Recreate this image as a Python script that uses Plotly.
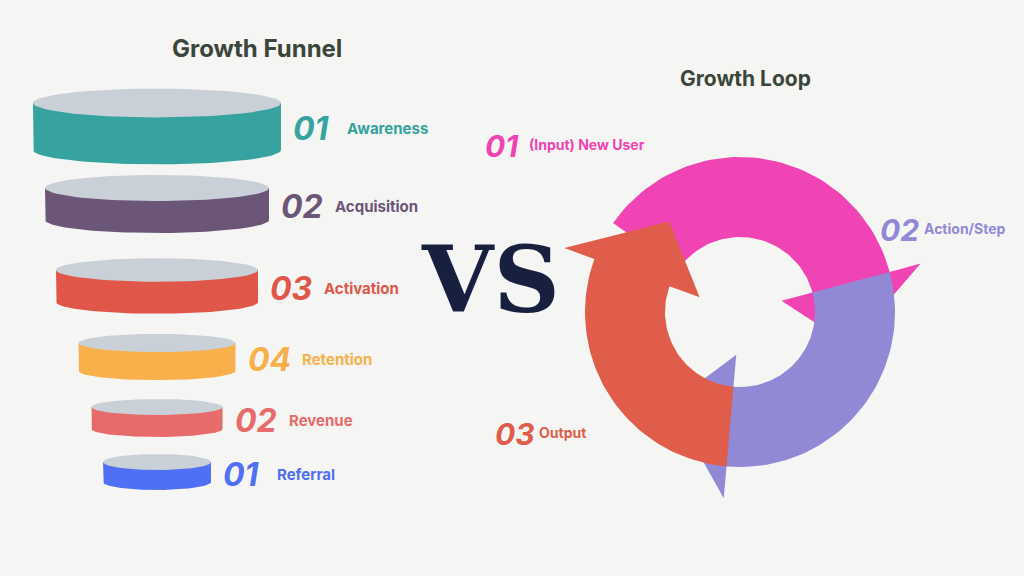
import numpy as np
import plotly.graph_objects as go

# ---- data ----
stage_names = ["Awareness", "Acquisition", "Activation", "Retention", "Revenue", "Referral"]
stage_nums = ["01", "02", "03", "04", "02", "01"]
stage_colors = ["#36a3a0", "#6b5677", "#e0574a", "#f8b04a", "#e86b6b", "#4f6ff5"]
stage_widths = [248, 224, 202, 157, 131, 108]
stage_top = [103, 188, 270, 343, 407, 462]
stage_depth = [47, 32, 32, 28, 22, 20]

loop_labels = ["(Input) New User", "Action/Step", "Output"]
loop_nums = ["01", "02", "03"]
loop_colors = ["#f044b4", "#9189d6", "#df5d4a"]
loop_arcs = [(145, 15), (15, -95), (265, 160)]

BG = "#f5f5f3"
TOP = "#c9d0d8"
fig = go.Figure()
cx_f = 157
t = np.linspace(0, 2 * np.pi, 80)

for name, num, col, w, y0, d in zip(stage_names, stage_nums, stage_colors,
                                    stage_widths, stage_top, stage_depth):
    rx = w / 2
    ry = max(8, w * 0.058)
    tt = np.linspace(0, np.pi, 60)
    xs = [cx_f - rx] + list(cx_f - rx * np.cos(tt)) + [cx_f + rx]
    ys = [y0] + list(y0 + d + ry * np.sin(tt)) + [y0]
    fig.add_trace(go.Scatter(x=xs, y=ys, fill="toself", fillcolor=col, mode="lines",
                             line=dict(width=0), hoverinfo="skip"))
    fig.add_trace(go.Scatter(x=cx_f + rx * np.cos(t), y=y0 + ry * np.sin(t), fill="toself",
                             fillcolor=TOP, mode="lines", line=dict(width=0), hoverinfo="skip"))
    ly = y0 + d / 2 + 2
    nx = cx_f + rx + 10
    fig.add_annotation(x=nx, y=ly, text=f"<b><i>{num}</i></b>", showarrow=False, xanchor="left",
                       font=dict(size=32, color=col, family="Inter"))
    fig.add_annotation(x=nx + 54, y=ly, text=f"<b>{name}</b>", showarrow=False, xanchor="left",
                       font=dict(size=15, color=col, family="Inter"))

cx, cy, ro, ri = 740, 312, 155, 75
rm = (ro + ri) / 2
def P(r, a):
    a = np.radians(a)
    return cx + r * np.cos(a), cy - r * np.sin(a)

for col, (a0, a1) in zip(loop_colors, loop_arcs):
    pts = [P(ro, a) for a in np.linspace(a0, a1, 60)]
    pts.append(P(ro + 32, a1))
    pts.append(P(rm, a1 - 32))
    pts.append(P(ri - 32, a1))
    pts += [P(ri, a) for a in np.linspace(a1, a0, 60)]
    pts.append(P(ro, a0))
    fig.add_trace(go.Scatter(x=[p[0] for p in pts], y=[p[1] for p in pts], fill="toself",
                             fillcolor=col, mode="lines", line=dict(width=0), hoverinfo="skip"))

label_pos = [(483, 146), (878, 230), (493, 434)]
for (lx, ly), num, lab, col in zip(label_pos, loop_nums, loop_labels, loop_colors):
    fig.add_annotation(x=lx, y=ly, text=f"<b><i>{num}</i></b>", showarrow=False, xanchor="left",
                       font=dict(size=30, color=col, family="Inter"))
    fig.add_annotation(x=lx + 44, y=ly - 2, text=f"<b>{lab}</b>", showarrow=False, xanchor="left",
                       font=dict(size=14, color=col, family="Inter"))

fig.add_annotation(x=490, y=280, text="<b>VS</b>", showarrow=False,
                   font=dict(size=92, color="#17213f", family="DejaVu Serif"))
fig.add_annotation(x=257, y=48, text="<b>Growth Funnel</b>", showarrow=False,
                   font=dict(size=24, color="#3b463b", family="Inter"))
fig.add_annotation(x=745, y=78, text="<b>Growth Loop</b>", showarrow=False,
                   font=dict(size=21, color="#3b463b", family="Inter"))

fig.update_layout(width=1024, height=576, margin=dict(l=0, r=0, t=0, b=0),
                  paper_bgcolor=BG, plot_bgcolor=BG, showlegend=False,
                  xaxis=dict(range=[0, 1024], visible=False, fixedrange=True),
                  yaxis=dict(range=[576, 0], visible=False, fixedrange=True))
fig.write_html("out.html", config={"displayModeBar": False},
               post_script="document.body.style.margin='0';document.body.style.background='#f5f5f3';")
